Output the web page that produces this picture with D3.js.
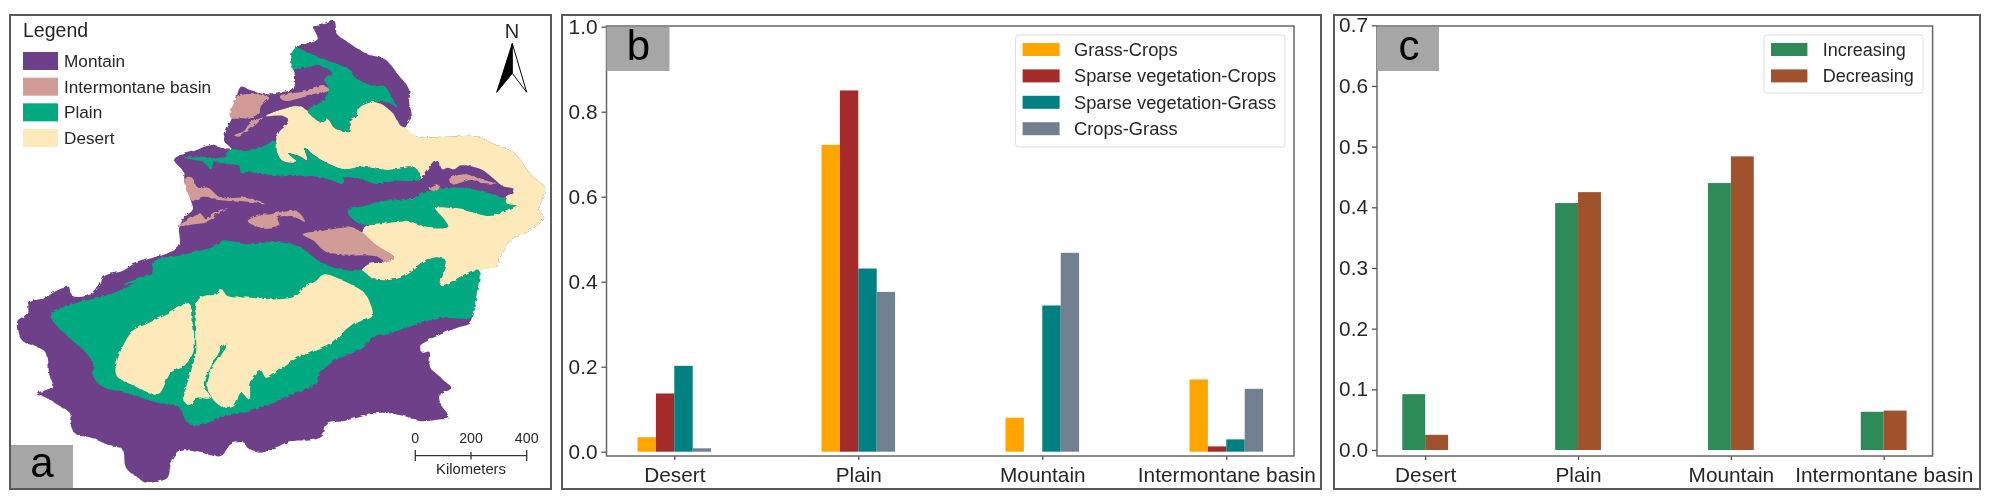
<!DOCTYPE html>
<html>
<head>
<meta charset="utf-8">
<script src="https://cdn.jsdelivr.net/npm/d3@7"></script>
<style>
	html, body { margin: 0; padding: 0; background: #fff; }
	svg { display: block; filter: blur(0.5px); }
	text { font-family: 'Liberation Sans', Arial, sans-serif; fill: #262626; }
</style>
</head>
<body>
<script>
// Data panel b and c
const categories = ['Desert', 'Plain', 'Mountain', 'Intermontane basin']

const seriesB = ['Grass-Crops', 'Sparse vegetation-Crops', 'Sparse vegetation-Grass', 'Crops-Grass']
const grassCrops = [0.034, 0.722, 0.08, 0.17]
const sparseCrops = [0.137, 0.85, 0, 0.0125]
const sparseGrass = [0.202, 0.431, 0.344, 0.029]
const cropsGrass = [0.008, 0.376, 0.468, 0.148]
const ticksB = [0, 0.2, 0.4, 0.6, 0.8, 1]

const seriesC = ['Increasing', 'Decreasing']
const increasing = [0.092, 0.407, 0.44, 0.063]
const decreasing = [0.025, 0.425, 0.484, 0.065]
const ticksC = [0, 0.1, 0.2, 0.3, 0.4, 0.5, 0.6, 0.7]

// Map legend + scale bar
const mapClasses = ['Montain', 'Intermontane basin', 'Plain', 'Desert']
const kmTicks = [0, 200, 400]

// Traced map outlines, in map units
const regionOutline = [[826,140],[886,115],[877,80],[905,70],[933,60],[942,100],[980,130],[1026,160],[1075,175],[1115,225],[1146,270],[1143,305],[1150,345],[1134,383],[1166,407],[1250,407],[1334,407],[1381,430],[1437,455],[1460,485],[1488,525],[1526,565],[1507,625],[1521,650],[1479,690],[1437,715],[1400,765],[1390,795],[1339,810],[1334,885],[1325,930],[1316,965],[1278,980],[1232,1000],[1194,1020],[1174,1035],[1180,1055],[1199,1052],[1202,1100],[1227,1125],[1241,1140],[1261,1160],[1241,1175],[1227,1185],[1232,1210],[1255,1250],[1232,1255],[1171,1260],[1129,1245],[1064,1235],[1017,1245],[961,1260],[914,1270],[900,1305],[868,1318],[821,1320],[765,1345],[723,1355],[690,1340],[681,1325],[644,1330],[616,1365],[560,1355],[504,1350],[476,1390],[466,1430],[406,1445],[383,1430],[350,1400],[340,1345],[308,1335],[252,1310],[210,1300],[196,1275],[196,1240],[163,1215],[126,1190],[101,1180],[145,1160],[135,1120],[126,1055],[93,1035],[61,1020],[48,965],[75,940],[79,905],[126,890],[145,875],[191,858],[201,885],[252,880],[275,855],[290,825],[340,810],[370,790],[425,770],[470,755],[499,735],[499,680],[513,650],[537,625],[532,600],[513,530],[513,515],[485,475],[541,450],[588,433],[616,440],[646,445],[625,420],[630,390],[649,345],[672,257],[700,270],[747,280],[779,277],[817,267],[823,225],[814,175]]
const desertNorth = [[742,345],[789,325],[831,315],[859,330],[896,365],[915,355],[933,380],[966,393],[978,385],[980,360],[998,345],[1003,320],[1045,303],[1096,335],[1120,375],[1134,383],[1166,407],[1250,407],[1334,407],[1381,430],[1437,455],[1460,485],[1488,525],[1526,565],[1507,625],[1521,650],[1479,690],[1437,715],[1400,765],[1390,795],[1339,810],[1232,855],[1246,780],[1213,770],[1185,785],[1120,830],[1045,835],[1012,810],[1030,790],[1082,783],[1101,770],[1054,735],[1012,695],[1036,670],[1100,640],[1100,600],[1180,575],[1176,535],[1162,503],[1082,507],[1008,497],[961,505],[886,470],[851,442],[858,478],[835,465],[807,458],[831,483],[789,480],[773,455],[770,420],[778,395],[807,360],[790,345]]
const plainNorth = [[826,140],[858,155],[915,180],[980,208],[989,227],[1045,255],[1073,255],[1096,292],[1109,320],[1096,311],[1045,303],[1003,320],[998,345],[978,360],[978,392],[966,393],[933,380],[915,355],[900,365],[859,330],[887,310],[910,295],[915,255],[905,236],[929,218],[887,194],[840,204],[819,208],[814,157]]
const plainStrip = [[513,470],[569,470],[625,470],[644,445],[681,450],[714,445],[756,425],[770,423],[773,455],[789,480],[831,485],[807,460],[835,465],[858,480],[851,442],[886,470],[961,505],[1008,497],[1082,507],[1162,503],[1176,535],[1138,540],[1101,540],[1054,550],[1008,535],[961,530],[961,550],[915,535],[840,525],[765,525],[709,515],[672,515],[667,495],[635,490],[597,485],[588,505],[569,485]]
const mountainEast = [[1000,620],[1100,600],[1130,560],[1176,535],[1194,510],[1222,480],[1236,505],[1250,500],[1269,505],[1288,493],[1344,505],[1381,535],[1404,555],[1437,565],[1432,580],[1381,595],[1288,575],[1185,585],[1100,610]]
const plainTurpan = [[971,630],[1017,615],[1073,600],[1152,595],[1185,575],[1288,560],[1362,575],[1409,590],[1420,580],[1414,605],[1446,615],[1418,630],[1367,645],[1316,633],[1283,625],[1218,622],[1241,655],[1252,677],[1194,680],[1138,662],[1036,672],[998,665]]
const plainSouth = [[140,945],[200,910],[290,885],[350,860],[420,825],[430,780],[495,765],[588,740],[635,720],[691,730],[775,723],[840,740],[896,785],[952,805],[985,810],[1012,810],[1045,835],[1120,830],[1185,785],[1213,770],[1246,780],[1232,855],[1339,810],[1334,885],[1325,930],[1316,950],[1232,952],[1152,975],[1082,1000],[1045,1010],[1008,1045],[933,1080],[896,1115],[882,1150],[821,1180],[765,1205],[700,1230],[616,1250],[569,1270],[541,1275],[518,1260],[499,1220],[439,1205],[345,1175],[280,1155],[257,1120],[261,1095],[238,1055],[191,1010]]
const plainSliver = [[345,850],[380,835],[432,820],[410,840],[370,850]]
const desertWest = [[527,908],[537,970],[541,1045],[513,1095],[476,1115],[439,1180],[373,1155],[322,1120],[364,995],[406,970],[467,940]]
const desertCentre = [[550,900],[569,885],[606,880],[618,865],[634,885],[700,890],[774,895],[826,885],[849,860],[882,840],[905,820],[960,840],[1017,875],[1031,900],[1040,945],[998,965],[961,995],[924,1030],[868,1055],[830,1070],[784,1105],[742,1130],[728,1110],[700,1145],[695,1195],[672,1175],[653,1215],[625,1220],[597,1200],[588,1185],[578,1160],[588,1110],[606,1080],[634,1030],[620,1040],[597,1080],[578,1120],[571,1160],[588,1190],[546,1195],[532,1215],[513,1200],[532,1110],[546,1055],[546,990]]
const basinPatches = [
	[[667,285],[751,290],[728,315],[723,340],[705,352],[677,352],[644,350]],
	[[653,403],[681,390],[695,370],[733,350],[709,375],[691,390],[667,407]],
	[[782,290],[817,277],[858,270],[905,255],[919,267],[887,280],[840,290],[798,300]],
	[[518,530],[535,530],[551,560],[579,560],[616,590],[681,590],[739,609],[681,604],[616,598],[569,590],[537,600],[518,558]],
	[[499,675],[518,660],[560,640],[574,655],[602,635],[639,625],[607,640],[588,660],[541,670]],
	[[691,660],[728,643],[756,640],[775,635],[831,633],[854,665],[826,650],[775,650],[779,675],[737,683],[709,675]],
	[[845,700],[896,690],[980,680],[1012,695],[1054,735],[1101,770],[1082,783],[1045,765],[952,763],[905,750],[877,720]],
	[[1255,535],[1297,520],[1344,535],[1390,550],[1358,550],[1316,537],[1264,550]],
	[[1199,565],[1222,553],[1232,560],[1213,570]]
]

const mapColors = { mountain: '#6d4189', basin: '#d19b97', plain: '#00a97f', desert: '#fde9b9' }
const lineColor = '#5a5a5a'

const svg = d3.select('body').append('svg').attr('width', 1994).attr('height', 504)

// Rough edge for the map borders
const rough = svg.append('defs').append('filter')
	.attr('id', 'rough')
	.attr('filterUnits', 'userSpaceOnUse')
	.attr('x', 0)
	.attr('y', 0)
	.attr('width', 560)
	.attr('height', 504)
rough.append('feTurbulence')
	.attr('type', 'turbulence')
	.attr('baseFrequency', 0.16)
	.attr('numOctaves', 2)
	.attr('seed', 4)
	.attr('result', 'noise')
rough.append('feDisplacementMap')
	.attr('in', 'SourceGraphic')
	.attr('in2', 'noise')
	.attr('scale', 2.5)

// Outer frames of the three panels
svg.selectAll('.frame')
	.data([[10, 541], [562, 759], [1334, 646]])
	.join('rect')
	.attr('class', 'frame')
	.attr('x', d => d[0])
	.attr('y', 15)
	.attr('width', d => d[1])
	.attr('height', 474)
	.attr('fill', 'none')
	.attr('stroke', lineColor)
	.attr('stroke-width', 2)

// Panel a ---------------------------------------------
const mapX = d3.scaleLinear().domain([0, 1568]).range([0, 560])
const mapY = d3.scaleLinear().domain([0, 1512]).range([0, 504])
const mapLine = d3.line().x(d => mapX(d[0])).y(d => mapY(d[1])).curve(d3.curveCatmullRomClosed.alpha(0.5))
const gMap = svg.append('g').attr('filter', 'url(#rough)')

const layers = [
	[regionOutline, mapColors.mountain],
	[desertNorth, mapColors.desert],
	[plainNorth, mapColors.plain],
	[plainStrip, mapColors.plain],
	[mountainEast, mapColors.mountain],
	[plainTurpan, mapColors.plain],
	[plainSouth, mapColors.plain],
	[plainSliver, mapColors.plain],
	[desertWest, mapColors.desert],
	[desertCentre, mapColors.desert],
	...basinPatches.map(p => [p, mapColors.basin])
]
gMap.selectAll('path')
	.data(layers)
	.join('path')
	.attr('d', d => mapLine(d[0]))
	.attr('fill', d => d[1])

// Map legend
svg.append('text').attr('x', 23).attr('y', 37).attr('font-size', 19.5).text('Legend')
const mapLegendColors = [mapColors.mountain, mapColors.basin, mapColors.plain, mapColors.desert]
const mapLegendY = d3.scalePoint().domain(mapClasses).range([52, 129])
svg.selectAll('.maplegend')
	.data(mapClasses)
	.join('rect')
	.attr('class', 'maplegend')
	.attr('x', 23)
	.attr('y', d => mapLegendY(d))
	.attr('width', 35)
	.attr('height', 18)
	.attr('fill', (d, i) => mapLegendColors[i])
svg.selectAll('.maplegendtext')
	.data(mapClasses)
	.join('text')
	.attr('class', 'maplegendtext')
	.attr('x', 64)
	.attr('y', d => mapLegendY(d) + 15)
	.attr('font-size', 17.2)
	.text(d => d)

// North arrow
svg.append('text').attr('x', 512).attr('y', 38).attr('font-size', 20).attr('text-anchor', 'middle').text('N')
svg.append('path').attr('d', 'M512.3,43.5L496.7,92.3L512.3,73.3Z').attr('fill', '#000').attr('stroke', '#000')
svg.append('path').attr('d', 'M512.3,43.5L526.7,92.3L512.3,73.3Z').attr('fill', '#fff').attr('stroke', '#000')

// Scale bar
const kmScale = d3.scaleLinear().domain([0, 400]).range([415.3, 526.7])
svg.append('line')
	.attr('x1', kmScale(0))
	.attr('x2', kmScale(400))
	.attr('y1', 455.7)
	.attr('y2', 455.7)
	.attr('stroke', '#333')
	.attr('stroke-width', 1.3)
svg.selectAll('.kmtick')
	.data(kmTicks)
	.join('line')
	.attr('class', 'kmtick')
	.attr('x1', d => kmScale(d))
	.attr('x2', d => kmScale(d))
	.attr('y1', d => (d === 200 ? 452 : 450))
	.attr('y2', d => (d === 200 ? 459.5 : 461))
	.attr('stroke', '#333')
	.attr('stroke-width', 1.3)
svg.selectAll('.kmlabel')
	.data(kmTicks)
	.join('text')
	.attr('class', 'kmlabel')
	.attr('x', d => kmScale(d))
	.attr('y', 443)
	.attr('font-size', 14.2)
	.attr('text-anchor', 'middle')
	.text(d => d)
svg.append('text').attr('x', 471).attr('y', 473.5).attr('font-size', 14.8).attr('text-anchor', 'middle').text('Kilometers')

// Panel letters
function panelLetter(x, y, w, h, letter, textX, baseline) {
	svg.append('rect').attr('x', x).attr('y', y).attr('width', w).attr('height', h).attr('fill', '#a6a6a6')
	svg.append('text')
		.attr('x', textX)
		.attr('y', baseline)
		.attr('font-size', 42)
		.attr('text-anchor', 'middle')
		.style('fill', '#000')
		.text(letter)
}
panelLetter(11, 445, 62, 43, 'a', 42, 477)

// Panel b and c ----------------------------------------
function barPanel(opts) {
	const g = svg.append('g')
	const x = d3.scalePoint().domain(categories).range(opts.catRange)
	const y = d3.scaleLinear().domain(opts.yDomain).range(opts.yRange)
	const inner = d3.scaleBand().domain(opts.series).range([-opts.groupWidth / 2, opts.groupWidth / 2])

	panelLetter(opts.left, opts.top + 1, opts.letterWidth, 44, opts.letter, opts.letterX, 60)

	opts.series.forEach((name, s) => {
		g.append('g')
			.selectAll('rect')
			.data(categories.map((cat, i) => ({ cat, v: opts.values[s][i] })))
			.join('rect')
			.attr('x', d => x(d.cat) + inner(name))
			.attr('y', d => y(d.v))
			.attr('width', inner.bandwidth())
			.attr('height', d => y(0) - y(d.v))
			.attr('fill', opts.colors[s])
	})

	// axes
	const yAxis = d3.axisLeft(y).tickValues(opts.ticks).tickFormat(d3.format('.1f')).tickSize(5).tickPadding(4)
	const gy = g.append('g').attr('transform', `translate(${opts.left},0)`).call(yAxis)
	const xAxis = d3.axisBottom(x).tickSize(4).tickPadding(7)
	const gx = g.append('g').attr('transform', `translate(0,${opts.bottom})`).call(xAxis)
	;[gx, gy].forEach(a => {
		a.select('.domain').remove()
		a.selectAll('line').attr('stroke', '#444').attr('stroke-width', 1.2)
		a.selectAll('text').attr('font-size', 20.8).attr('font-family', null)
	})
	gx.selectAll('text').attr('dy', '0.72em')
	g.append('rect')
		.attr('x', opts.left)
		.attr('y', opts.top)
		.attr('width', opts.right - opts.left)
		.attr('height', opts.bottom - opts.top)
		.attr('fill', 'none')
		.attr('stroke', '#666')
		.attr('stroke-width', 1.5)

	// legend
	const l = opts.legend
	const legendY = d3.scalePoint().domain(opts.series).range([43, 43 + 26.4 * (opts.series.length - 1)])
	g.append('rect')
		.attr('x', l.x)
		.attr('y', 35)
		.attr('width', l.w)
		.attr('height', l.h)
		.attr('rx', 3)
		.attr('fill', '#fff')
		.attr('stroke', '#dcdcdc')
	g.selectAll('.swatch')
		.data(opts.series)
		.join('rect')
		.attr('class', 'swatch')
		.attr('x', l.x + 7)
		.attr('y', d => legendY(d))
		.attr('width', l.swatch)
		.attr('height', 13)
		.attr('fill', (d, i) => opts.colors[i])
	g.selectAll('.legendtext')
		.data(opts.series)
		.join('text')
		.attr('class', 'legendtext')
		.attr('x', l.textX)
		.attr('y', d => legendY(d) + 13)
		.attr('font-size', l.font)
		.text(d => d)
}

barPanel({
	letter: 'b',
	letterWidth: 63,
	letterX: 638.5,
	left: 606.5,
	right: 1294,
	top: 26,
	bottom: 456,
	catRange: [674.3, 1226.3],
	yDomain: [0, 1],
	yRange: [451.7, 26.7],
	ticks: ticksB,
	groupWidth: 73.6,
	series: seriesB,
	values: [grassCrops, sparseCrops, sparseGrass, cropsGrass],
	colors: ['#ffa500', '#a52a2a', '#008080', '#708090'],
	legend: { x: 1015.6, w: 269.4, h: 112, swatch: 37, textX: 1074, font: 18.3 }
})

barPanel({
	letter: 'c',
	letterWidth: 62,
	letterX: 1409,
	left: 1377,
	right: 1932.6,
	top: 26,
	bottom: 456,
	catRange: [1425.2, 1883.7],
	yDomain: [0, 0.7],
	yRange: [450, 25.3],
	ticks: ticksC,
	groupWidth: 45.8,
	series: seriesC,
	values: [increasing, decreasing],
	colors: ['#2e8b57', '#a0522d'],
	legend: { x: 1764, w: 159, h: 58, swatch: 36.4, textX: 1822.7, font: 18 }
})
</script>
</body>
</html>
